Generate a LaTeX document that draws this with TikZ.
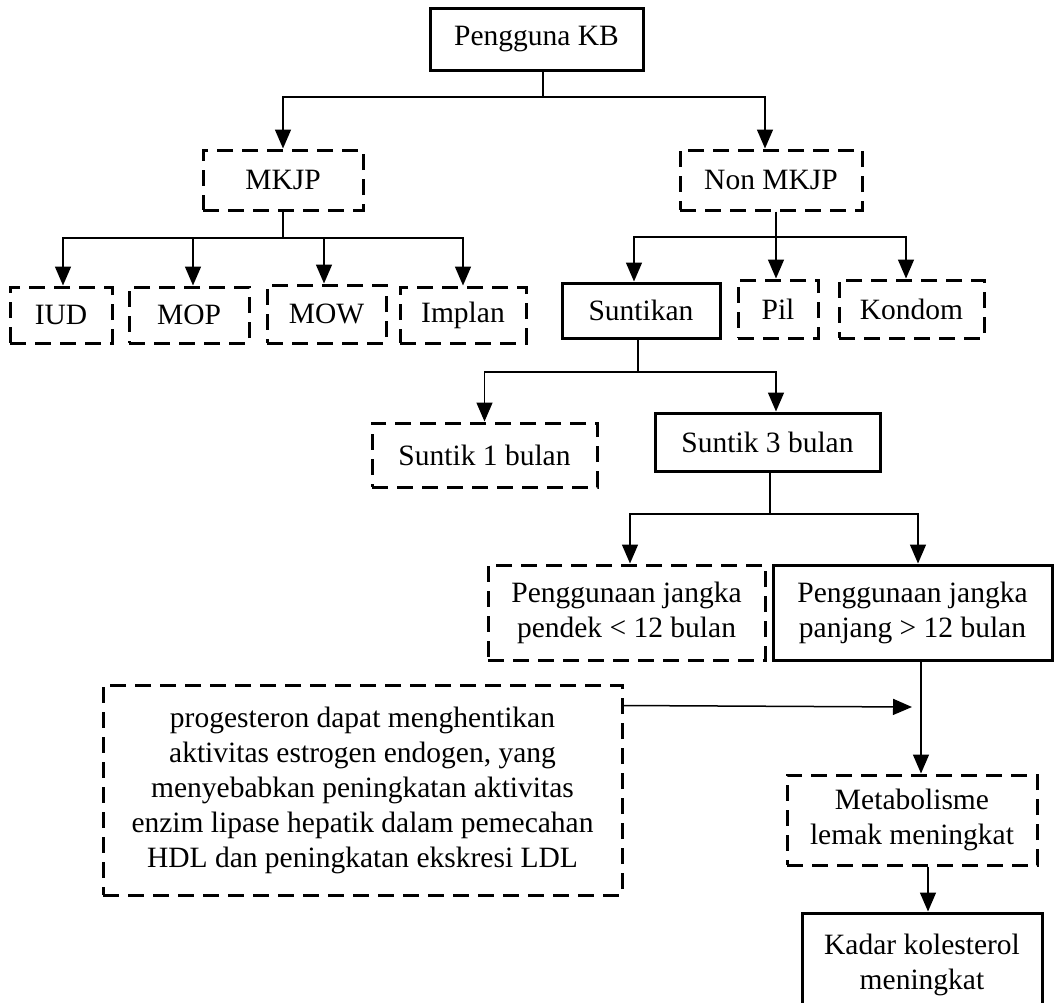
\documentclass[tikz,border=0pt]{standalone}
\usepackage{fontspec}
\setmainfont{Liberation Serif}
\usetikzlibrary{arrows.meta}
\begin{document}
\begin{tikzpicture}[x=1pt,y=-1pt,
  box/.style={draw, line width=3pt, rectangle, inner sep=0pt, align=center,
    font=\fontsize{29.5}{35}\selectfont},
  solidbox/.style={box},
  dashbox/.style={box, dash pattern=on 16pt off 9pt},
  conn/.style={line width=1.5pt},
  arr/.style={conn, -{Triangle[length=19pt,width=16pt]}}]
\useasboundingbox (0,0) rectangle (1058,1002);
\clip (0,0) rectangle (1058,1002);

% nodes
\node[solidbox, minimum width=213pt, minimum height=62pt] (kb) at (536.5,39) {Pengguna KB};
\node[dashbox, minimum width=160pt, minimum height=60pt] (mkjp) at (283,180) {MKJP};
\node[dashbox, minimum width=182pt, minimum height=60pt] (nonmkjp) at (771,180) {Non MKJP};

\node[dashbox, minimum width=102pt, minimum height=56pt] (iud) at (61,315) {IUD};
\node[dashbox, minimum width=120pt, minimum height=56pt] (mop) at (189,315) {MOP};
\node[dashbox, minimum width=119pt, minimum height=58pt] (mow) at (326.5,314) {MOW};
\node[dashbox, minimum width=126pt, minimum height=56pt] (implan) at (463,315) {Implan};

\node[solidbox, minimum width=158pt, minimum height=55pt] (suntikan) at (641,310.5) {Suntikan};
\node[dashbox, minimum width=80pt, minimum height=58pt] (pil) at (778,309) {Pil};
\node[dashbox, minimum width=145pt, minimum height=58pt] (kondom) at (911.5,309) {Kondom};

\node[dashbox, minimum width=225pt, minimum height=64pt] (s1) at (484.5,455) {Suntik 1 bulan};
\node[solidbox, minimum width=225pt, minimum height=58pt] (s3) at (767.5,442) {Suntik 3 bulan};

\node[dashbox, minimum width=277pt, minimum height=95pt] (pendek) at (626.5,612.5) {Penggunaan jangka\\pendek < 12 bulan};
\node[solidbox, minimum width=279pt, minimum height=95pt] (panjang) at (912.5,612.5) {Penggunaan jangka\\panjang > 12 bulan};

\node[dashbox, minimum width=519pt, minimum height=210pt] (big) at (362.5,790) {progesteron dapat menghentikan\\aktivitas estrogen endogen, yang\\menyebabkan peningkatan aktivitas\\enzim lipase hepatik dalam pemecahan\\HDL dan peningkatan ekskresi LDL};

\node[dashbox, minimum width=250pt, minimum height=90pt] (metab) at (912,820) {Metabolisme\\lemak meningkat};
\node[solidbox, minimum width=240pt, minimum height=110pt] (kadar) at (922,968) {};
\node[font=\fontsize{29.5}{35}\selectfont, align=center, inner sep=0pt, anchor=north] (kadartxt) at (922,934) {Kadar kolesterol\\meningkat};

% connectors
\coordinate (j1) at (543,97);
\draw[conn] ([xshift=6.5pt]kb.south) -- (j1);
\draw[arr] (j1) -| (mkjp.north);
\draw[arr] (j1) -| ([xshift=-6pt]nonmkjp.north);

\coordinate (j2) at (283,238);
\draw[conn] (mkjp.south) -- (j2);
\draw[arr] (j2) -| ([xshift=2pt]iud.north);
\draw[arr] (j2) -| ([xshift=4pt]mop.north);
\draw[arr] (j2) -| ([xshift=-2.5pt]mow.north);
\draw[arr] (j2) -| (implan.north);

\coordinate (j3) at (776,237);
\draw[conn] ([xshift=5pt]nonmkjp.south) -- (j3);
\draw[arr] (j3) -| ([xshift=-7pt]suntikan.north);
\draw[arr] (j3) -- ([xshift=-2pt]pil.north);
\draw[arr] (j3) -| ([xshift=-5.5pt]kondom.north);

\coordinate (j4) at (638,372);
\draw[conn] ([xshift=-3pt]suntikan.south) -- (j4);
\draw[arr] (j4) -| (s1.north);
\draw[arr] (j4) -| ([xshift=8.5pt]s3.north);

\coordinate (j5) at (770,514);
\draw[conn] ([xshift=2.5pt]s3.south) -- (j5);
\draw[arr] (j5) -| ([xshift=3.5pt]pendek.north);
\draw[arr] (j5) -| ([xshift=5.5pt]panjang.north);

\draw[arr] ([xshift=8.5pt]panjang.south) -- ([xshift=9pt]metab.north);
\coordinate (sidetip) at (912,707);
\draw[arr] ([yshift=-22pt]big.north east) -- (sidetip);
\draw[arr] ([xshift=16pt]metab.south) -- ([xshift=6pt]kadar.north);
\end{tikzpicture}
\end{document}
